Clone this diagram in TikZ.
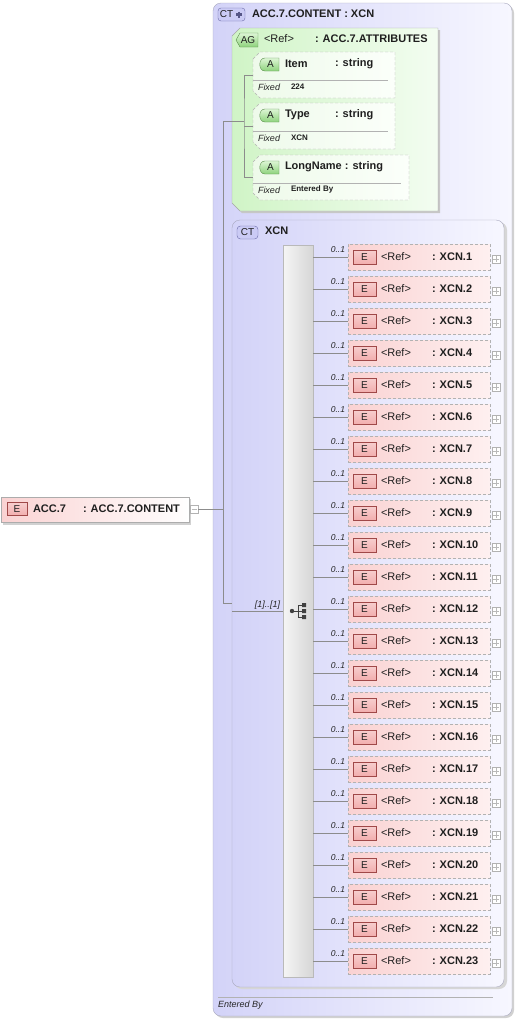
\documentclass[tikz,border=0pt]{standalone}
\usepackage{fontspec}
\setmainfont{Liberation Sans}
\definecolor{ctL}{HTML}{D3D3F8}
\definecolor{ctR}{HTML}{F7F7FF}
\definecolor{ctB}{HTML}{A9A9BE}
\definecolor{agL}{HTML}{D0F4C6}
\definecolor{agR}{HTML}{F3FDF1}
\definecolor{atL}{HTML}{EEFAEA}
\definecolor{atR}{HTML}{FBFFFA}
\definecolor{elL}{HTML}{FAD2D2}
\definecolor{elR}{HTML}{FEF0F0}
\definecolor{ebF}{HTML}{F2AEAE}
\definecolor{ebB}{HTML}{A04848}
\definecolor{abT}{HTML}{DDF6D5}
\definecolor{abBo}{HTML}{8ED27C}
\definecolor{abB}{HTML}{5C8F4E}
\definecolor{ctbF}{HTML}{CBCBF5}
\definecolor{ctbB}{HTML}{6A6AA8}
\definecolor{lineC}{HTML}{8C8C8C}
\newcommand\chamf[6]{\path[#6] (#1,#2+#5) -- (#1+#5,#2) -- (#3,#2) -- (#3,#4) -- (#1+#5,#4) -- (#1,#4-#5) -- cycle;}
\begin{document}
\begin{tikzpicture}[x=1pt,y=-1pt,
  every node/.style={inner sep=0pt, outer sep=0pt},
  conn/.style={draw=lineC, line width=0.7pt},
  btxt/.style={font=\fontsize{11}{13}\selectfont\bfseries, text=black!88},
  ntxt/.style={font=\fontsize{11}{13}\selectfont, text=black!88},
  itxt/.style={font=\fontsize{8.5}{10}\selectfont\itshape, text=black!85},
  ftxt/.style={font=\fontsize{9}{11}\selectfont\itshape, text=black!85},
  vtxt/.style={font=\fontsize{8}{10}\selectfont\bfseries, text=black!88},
  bdgtxt/.style={font=\fontsize{10}{12}\selectfont, text=black!88},
  elbox/.style={rectangle, draw=gray!60, dash pattern=on 3pt off 2pt, left color=elL, right color=elR, minimum width=142pt, minimum height=26pt},
  ebadge/.style={rectangle, draw=ebB, top color=ebF!60, bottom color=ebF, minimum width=23pt, minimum height=14pt, font=\fontsize{10}{12}\selectfont, text=black!88},
  plusbox/.style={rectangle, draw=gray!60, fill=white, minimum width=8pt, minimum height=8pt}
]
\useasboundingbox (0,0) rectangle (517,1020);

% outer complex type box
\fill[black!18, rounded corners=8] (215,5) rectangle (514,1018);
\node[rectangle, draw=ctB, rounded corners=8, left color=ctL, right color=ctR, minimum width=299pt, minimum height=1013pt, anchor=north west] (ct) at (213,3) {};
\draw[rounded corners=3, draw=ctbB, fill=ctbF] (218,8) rectangle (245,21);
\node[bdgtxt] (ctlbl) at (226.5,14.5) {CT};
\draw[draw=ctbB!80!black, line width=2.4pt] (236,14.5) -- (242,14.5) (239,11.5) -- (239,17.5);
\node[btxt, anchor=west] (cttitle) at (252,14) {ACC.7.CONTENT : XCN};

% attribute group
\chamf{234}{30}{440}{213}{8}{fill=black!22}
\chamf{232}{28}{438}{211}{8}{draw=gray!70, left color=agL, right color=agR}
\path[draw=abB, top color=abT, bottom color=abBo] (240,33) -- (258,33) -- (258,47) -- (240,47) -- (236,40) -- cycle;
\node[bdgtxt] (aglbl) at (248,40) {AG};
\node[ntxt, anchor=west] (agref) at (264,39) {<Ref>};
\node[btxt, anchor=west] (agname) at (315,39) {: ACC.7.ATTRIBUTES};

% attributes
\chamf{253}{52}{395}{98}{7}{draw=gray!60, dash pattern=on 3pt off 2pt, left color=atL, right color=atR}
\chamf{253}{103}{395}{149}{7}{draw=gray!60, dash pattern=on 3pt off 2pt, left color=atL, right color=atR}
\chamf{253}{155}{409}{200}{7}{draw=gray!60, dash pattern=on 3pt off 2pt, left color=atL, right color=atR}
\coordinate (a1) at (253,75);
\coordinate (a2) at (253,126);
\coordinate (a3) at (253,177.5);
\foreach \yy/\nm/\ty/\vl/\lx in {64/Item/{: string}/224/388, 115/Type/{: string}/XCN/388, 167/{LongName : string}/{}/Entered By/401}{
  \path[draw=abB, top color=abT, bottom color=abBo] (265,\yy-6) -- (279,\yy-6) -- (279,\yy+7) -- (265,\yy+7) .. controls (258,\yy+7) and (258,\yy-6) .. (265,\yy-6) -- cycle;
  \node[bdgtxt] at (270.5,\yy+0.5) {A};
  \node[btxt, anchor=west] at (285,\yy) {\nm};
  \node[btxt, anchor=west] at (335,\yy) {\ty};
  \draw[gray!60] (253,\yy+16) -- (\lx,\yy+16);
  \node[ftxt, anchor=west] at (258,\yy+23) {Fixed};
  \node[vtxt, anchor=west] at (291,\yy+22.5) {\vl};
}
\coordinate (agj) at (244,121);
\coordinate (trunk) at (223,121);
\draw[conn] (a1) -| (agj) |- (a3);
\draw[conn] (a2) -- (a2 -| agj);
\draw[conn] (agj) -- (trunk);

% XCN complex type
\fill[black!16, rounded corners=8] (234,222) rectangle (507,989);
\node[rectangle, draw=ctB, rounded corners=8, left color=ctL, right color=ctR, minimum width=272pt, minimum height=767pt, anchor=north west] (xcn) at (232,220) {};
\draw[rounded corners=3.5, draw=ctbB, fill=ctbF] (237,226) rectangle (258,239);
\node[bdgtxt] (xcnlbl) at (247.5,232.5) {CT};
\node[btxt, anchor=west] (xcntitle) at (265,231) {XCN};

% choice bar
\node[rectangle, draw=gray!55, left color=white!96!black, right color=gray!32, minimum width=30pt, minimum height=732pt, anchor=north west] (ch) at (283,245) {};
\coordinate (trunkb) at (223,603);
\coordinate (cin) at (232,611);
\draw[conn] (trunk) -- (trunkb) -- (trunkb -| xcn.west);
\draw[conn] (cin) -- (cin -| ch.west);
\node[itxt, font=\fontsize{9}{11}\selectfont\itshape, anchor=east] (card) at (280,605) {[1]..[1]};
\begin{scope}[draw=black!75, fill=black!75]
\draw[line width=0.8pt] (292,611) -- (304,611) (298,605) -- (298,617) (298,605) -- (304,605) (298,617) -- (304,617);
\fill (292,611) circle (2.2);
\fill (302,603) rectangle (306,607) (302,609) rectangle (306,613) (302,615) rectangle (306,619);
\end{scope}

% elements
\foreach \i in {1,...,23}{
  \pgfmathsetmacro\yy{257+32*(\i-1)}
  \node[elbox, anchor=west] (e\i) at (348,\yy) {};
  \node[ebadge] (eb\i) at (364.5,\yy) {E};
  \node[ntxt, anchor=west] at (381,\yy) {<Ref>};
  \node[btxt, anchor=west] at (432,\yy) {: XCN.\i};
  \node[plusbox] (p\i) at (496,\yy+2) {};
  \draw[gray!55] (493,\yy+2) -- (499,\yy+2) (496,\yy-1) -- (496,\yy+5);
  \draw[conn] (ch.east |- e\i.west) -- (e\i.west);
  \node[itxt, anchor=east] at (345,\yy-7) {0..1};
}

% ACC.7 element
\fill[black!18] (3,499) rectangle (191,525);
\node[rectangle, draw=gray!65, left color=elL, right color=white, minimum width=188pt, minimum height=25pt, anchor=north west] (acc) at (1,497) {};
\node[ebadge, minimum width=20pt, minimum height=13pt] (accb) at (17,509) {E};
\node[btxt, anchor=west] (accn) at (33,509) {ACC.7};
\node[btxt, anchor=west] (acct) at (83,509) {: ACC.7.CONTENT};
\node[plusbox] (accm) at (194,509) {};
\draw[gray!55] (191.5,509) -- (196.5,509);
\draw[conn] (accm.east) -- (accm.east -| trunk);

% footer
\draw[gray!60] (218,997) -- (493,997);
\node[ftxt, anchor=west] (foot) at (218,1005) {Entered By};
\end{tikzpicture}
\end{document}
